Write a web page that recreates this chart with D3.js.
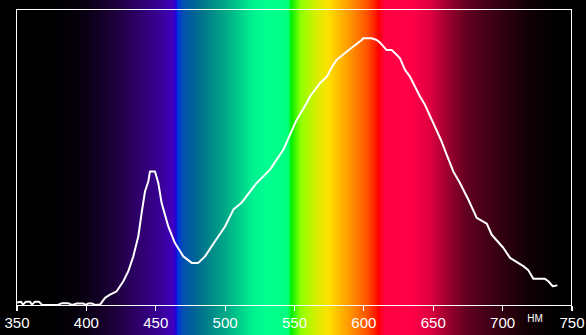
<!DOCTYPE html>
<html>
<head>
<meta charset="utf-8">
<script src="https://cdn.jsdelivr.net/npm/d3@7"></script>
<style>
  body { margin: 0; background: #000; }
  svg { display: block; }
</style>
</head>
<body>
<svg id="chart" width="586" height="335"></svg>
<script>
// spectrum curve (relative intensity)
const wavelengths = [350.4, 353.2, 354.7, 356.8, 359.7, 361.2, 363.3, 366.2, 368.4, 379.9,
  382.8, 387.1, 390, 393.6, 397.9, 400.1, 401.5, 404.4, 406.6, 410.2,
  413.8, 417.4, 422.2, 427, 430.6, 434.2, 437.8, 440.2, 442.6, 445,
  446.2, 449.8, 452.2, 454.6, 459.4, 464.2, 470.2, 476.3, 481, 485.9,
  493.1, 500.3, 506.3, 512, 523.1, 532.7, 542.3, 551.9, 559.2, 561.5,
  568.7, 573.6, 578.3, 580.8, 588.6, 598.8, 599.9, 603.5, 606, 609.6,
  612, 616.8, 620.4, 624, 626.4, 630, 633.6, 640.8, 644.4, 650.4,
  656.4, 660.1, 664.8, 669.6, 675.6, 681.7, 688.9, 692.5, 700.8, 705.7,
  715.3, 718.9, 722.5, 730.9, 733.3, 736.5, 739.8];
const intensity = [0.010, 0.013, 0.003, 0.013, 0.013, 0.003, 0.013, 0.013, 0.002, 0.002,
  0.008, 0.008, 0.002, 0.007, 0.007, 0.002, 0.007, 0.007, 0.002, 0.003,
  0.026, 0.037, 0.048, 0.082, 0.116, 0.166, 0.234, 0.313, 0.385, 0.419,
  0.453, 0.453, 0.414, 0.346, 0.267, 0.211, 0.166, 0.144, 0.144, 0.166,
  0.217, 0.267, 0.324, 0.346, 0.414, 0.459, 0.526, 0.627, 0.684, 0.706,
  0.751, 0.773, 0.813, 0.830, 0.860, 0.897, 0.903, 0.903, 0.903, 0.897,
  0.888, 0.863, 0.863, 0.847, 0.835, 0.796, 0.773, 0.706, 0.678, 0.616,
  0.554, 0.509, 0.453, 0.414, 0.358, 0.296, 0.277, 0.239, 0.195, 0.161,
  0.133, 0.119, 0.090, 0.090, 0.082, 0.065, 0.068];

// x axis ticks
const xTicks = [350, 400, 450, 500, 550, 600, 650, 700, 750];
const unitLabel = "HM";

// background rainbow, wavelength -> colour
const stopNm = [350, 375, 390, 400, 420, 440, 455, 463, 465, 466, 470, 480, 490, 505, 520,
  530, 545, 546.5, 548, 555, 565, 575, 590, 603, 609, 611, 615, 635, 648, 660, 675, 700, 720, 740, 750];
const stopColor = ["#000000", "#000000", "#040008", "#0a0014", "#1c0038", "#300070", "#3a009a", "#4000c0", "#2000d8", "#0030e0",
  "#0050b0", "#006890", "#008888", "#00b888", "#00f090", "#00ff90", "#00ff80", "#00ff60", "#00f000", "#90ff00",
  "#d0f000", "#ffe000", "#ff9800", "#ff5000", "#ff1800", "#ff0000", "#ff0040", "#ff0048", "#e00040", "#a00030",
  "#600020", "#300010", "#100004", "#000000", "#000000"];

const W = 586, H = 335;
const plotLeft = 16.5, plotRight = 571.5, plotTop = 9.5, plotBottom = 305.5;

const svg = d3.select('#chart');

const xScale = d3.scaleLinear().domain([350, 750]).range([plotLeft, plotRight]);
const yScale = d3.scaleLinear().domain([0, 1]).range([plotBottom, plotTop]);

// gradient for the whole picture
const grad = svg.append('defs').append('linearGradient')
  .attr('id', 'spectrum')
  .attr('gradientUnits', 'userSpaceOnUse')
  .attr('x1', xScale(350)).attr('x2', xScale(750))
  .attr('y1', 0).attr('y2', 0);

grad.selectAll('stop')
  .data(stopNm)
  .join('stop')
  .attr('offset', d => (d - 350) / 400)
  .attr('stop-color', (d, i) => stopColor[i]);

svg.append('rect')
  .attr('x', 0).attr('y', 0)
  .attr('width', W).attr('height', H)
  .attr('fill', 'url(#spectrum)');

// frame
svg.append('rect')
  .attr('x', plotLeft).attr('y', plotTop)
  .attr('width', plotRight - plotLeft).attr('height', plotBottom - plotTop)
  .attr('fill', 'none')
  .attr('stroke', '#fff')
  .attr('stroke-width', 1.2)
  .attr('shape-rendering', 'crispEdges');

// x axis
const xAxis = svg.append('g')
  .attr('transform', `translate(0,${plotBottom})`)
  .call(d3.axisBottom(xScale).tickValues(xTicks).tickSize(5).tickSizeOuter(0).tickPadding(7));

xAxis.select('.domain').remove();
xAxis.selectAll('line').attr('stroke', '#fff').attr('stroke-width', 1.2).attr('shape-rendering', 'crispEdges');
xAxis.selectAll('text')
  .attr('fill', '#fff')
  .style('font-family', '"Liberation Sans Narrow", "Liberation Sans", Arial, sans-serif')
  .style('font-size', '15px');

// unit label under the axis, between 700 and 750
svg.append('text')
  .attr('x', xScale(723.7))
  .attr('y', 321.5)
  .attr('text-anchor', 'middle')
  .attr('fill', '#fff')
  .style('font-family', '"Liberation Sans", Arial, sans-serif')
  .style('font-size', '10px')
  .text(unitLabel);

// the measured curve
const points = wavelengths.map((w, i) => ({nm: w, v: intensity[i]}));

const lineGenerator = d3.line()
  .x(d => xScale(d.nm))
  .y(d => yScale(d.v));

svg.append('path')
  .datum(points)
  .attr('d', lineGenerator)
  .attr('fill', 'none')
  .attr('stroke', '#fff')
  .attr('stroke-width', 2)
  .attr('stroke-linejoin', 'round');
</script>
</body>
</html>
